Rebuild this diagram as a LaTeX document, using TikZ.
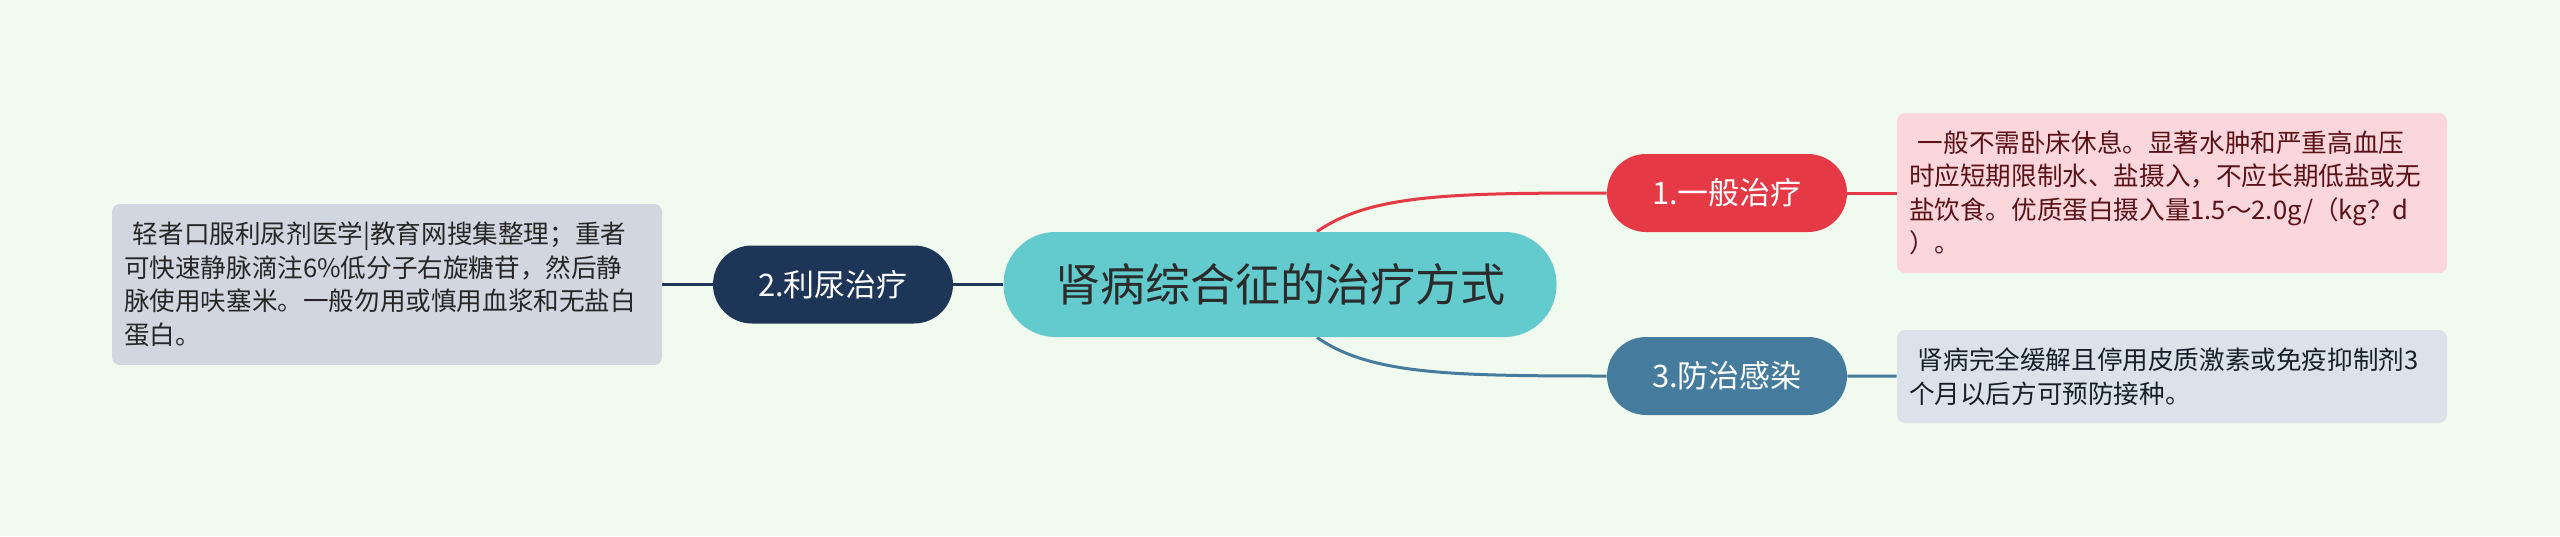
\documentclass[tikz,border=0pt]{standalone}
\usepackage{fontspec}
\setmainfont{Noto Sans CJK SC}
\usetikzlibrary{backgrounds}
\definecolor{bgmint}{HTML}{F1FAEE}
\definecolor{rootteal}{HTML}{63CBCD}
\definecolor{rootink}{HTML}{2B2B2B}
\definecolor{redtopic}{HTML}{E63946}
\definecolor{navytopic}{HTML}{1D3557}
\definecolor{bluetopic}{HTML}{457B9D}
\definecolor{pinknote}{HTML}{FBD7DB}
\definecolor{graynote}{HTML}{D2D7DF}
\definecolor{bluenote}{HTML}{DAE3EA}
\definecolor{redink}{HTML}{5A1218}
\definecolor{grayink}{HTML}{262626}
\definecolor{blueink}{HTML}{15202B}

\begin{document}
\begin{tikzpicture}[x=0.5pt,y=-0.5pt,
  topic/.style={rounded corners=19.5pt, minimum width=120pt, minimum height=39pt,
    inner sep=0pt, text=white, font=\fontsize{15.5}{18}\selectfont},
  note/.style={rounded corners=4pt, inner xsep=6pt, inner ysep=3pt, text width=263pt,
    align=left, font=\fontsize{12.8}{16.75}\selectfont},
  link/.style={line width=1.5pt}]
  \useasboundingbox (0,0) rectangle (2560,536);

  \node[fill=rootteal, rounded corners=26pt, minimum width=276.5pt, minimum height=52.5pt,
    inner sep=0pt, text=rootink, font=\fontsize{22.5}{26}\selectfont] (root) at (1280,284.5) {肾病综合征的治疗方式};
  \node[topic, fill=redtopic] (general) at (1727,193) {1.一般治疗};
  \node[topic, fill=navytopic] (diuretic) at (833,284.5) {2.利尿治疗};
  \node[topic, fill=bluetopic] (infection) at (1727,376) {3.防治感染};

  \node[note, fill=pinknote, text=redink, minimum height=80pt] (generalnote) at (2172,193)
    {\hspace*{0.35em}一般不需卧床休息。显著水肿和严重高血压\\
     时应短期限制水、盐摄入，不应长期低盐或无\\
     盐饮食。优质蛋白摄入量1.5～2.0g/（kg？d\\
     ）。};
  \node[note, fill=graynote, text=grayink, minimum height=80.5pt] (diureticnote) at (387,284.5)
    {\hspace*{0.35em}轻者口服利尿剂医学|教育网搜集整理；重者\\
     可快速静脉滴注6\%低分子右旋糖苷，然后静\\
     脉使用呋塞米。一般勿用或慎用血浆和无盐白\\
     蛋白。};
  \node[note, fill=bluenote, text=blueink, minimum height=46.5pt] (infectionnote) at (2172,376.5)
    {\hspace*{0.35em}肾病完全缓解且停用皮质激素或免疫抑制剂3\\
     个月以后方可预防接种。};

  \begin{pgfonlayer}{background}
    \fill[bgmint] (0,0) rectangle (2560,536);
    \draw[link, redtopic] ([xshift=18.5pt]root.north) .. controls +(53,-37) and +(-157,0) .. (general.west);
    \draw[link, redtopic] (general) -- (generalnote);
    \draw[link, navytopic] (root) -- (diuretic);
    \draw[link, navytopic] (diuretic) -- (diureticnote);
    \draw[link, bluetopic] ([xshift=18.5pt]root.south) .. controls +(53,37) and +(-157,0) .. (infection.west);
    \draw[link, bluetopic] (infection) -- (infectionnote);
  \end{pgfonlayer}
\end{tikzpicture}
\end{document}
